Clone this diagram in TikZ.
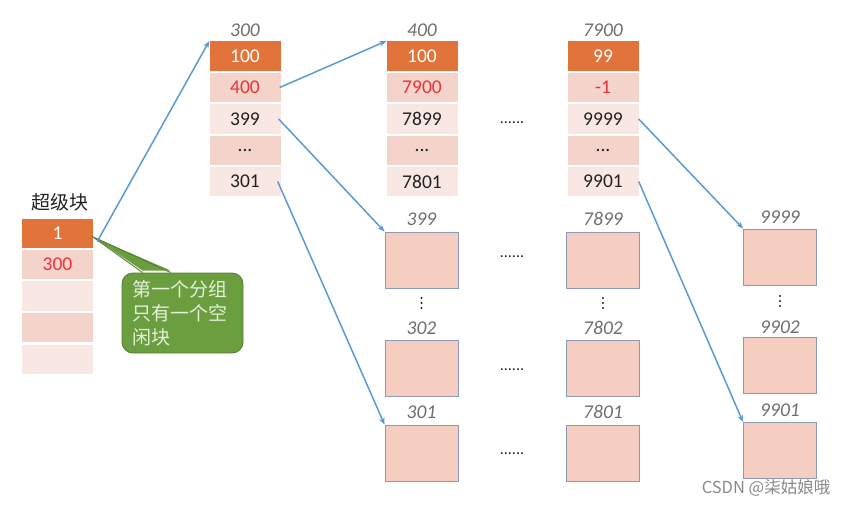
\documentclass[tikz,border=0pt]{standalone}
\usepackage{fontspec}
\setmainfont{Carlito}
\newfontfamily\cjk{Noto Sans CJK SC}
\usetikzlibrary{arrows.meta}
\definecolor{orangec}{HTML}{E2733A}
\definecolor{pinkmid}{HTML}{F3D3CA}
\definecolor{pinklight}{HTML}{F9E7E3}
\definecolor{boxfill}{HTML}{F6CEC1}
\definecolor{boxline}{HTML}{8C9AB8}
\definecolor{redtxt}{HTML}{E8343A}
\definecolor{hdr}{HTML}{6E6E6E}
\definecolor{arrowc}{HTML}{5B9BD5}
\definecolor{calfill}{HTML}{6B9E3E}
\definecolor{calline}{HTML}{567F35}
\definecolor{caltext}{HTML}{E6F0DC}
\definecolor{wmc}{HTML}{8A8A8A}
\definecolor{txtc}{HTML}{222222}
\tikzset{
  cellbase/.style={minimum width=71pt, minimum height=29.5pt, inner sep=0pt, text=txtc, font=\fontsize{19.5}{19.5}\selectfont},
  cellhead/.style={cellbase, fill=orangec, text=white},
  cellmid/.style={cellbase, fill=pinkmid},
  celllight/.style={cellbase, fill=pinklight},
  hdrlabel/.style={font=\fontsize{19.5}{19.5}\selectfont\itshape, text=hdr, inner sep=0pt},
  blockbox/.style={draw=boxline, line width=0.9pt, fill=boxfill, minimum width=73pt, minimum height=56pt, inner sep=0pt},
  link/.style={draw=arrowc, line width=1.5pt, -{Stealth[length=7pt,width=5.5pt]}},
  hdotsty/.style={font=\fontsize{16}{16}\selectfont, text=txtc, inner sep=0pt},
  vdot/.style={fill=txtc, circle, inner sep=0pt, minimum size=2.2pt},
  calloutbox/.style={fill=calfill, draw=calline, line width=0.9pt, rounded corners=11pt,
    minimum width=121pt, minimum height=80pt, text width=100pt, inner xsep=10.5pt, align=left,
    text=caltext, font=\cjk\fontsize{19}{24}\selectfont},
}
\begin{document}
\begin{tikzpicture}[x=1pt, y=-1pt]
\useasboundingbox (0,0) rectangle (850,507);
\fill[white] (0,0) rectangle (850,507);

% superblock
\node[font=\cjk\fontsize{19}{19}\selectfont, text=txtc, inner sep=0pt] (sblabel) at (60,202) {超级块};
\node[cellhead]  (s1) at (57.5,233.5) {1};
\node[cellmid, text=redtxt] (s2) at (57.5,264.5) {300};
\node[celllight] (s3) at (57.5,296) {};
\node[cellmid]   (s4) at (57.5,327.5) {};
\node[celllight] (s5) at (57.5,359.5) {};

% column 300
\node[hdrlabel] (h300) at (245,30) {300};
\node[cellhead]  (a1) at (245,56) {100};
\node[cellmid, text=redtxt] (a2) at (245,87.5) {400};
\node[celllight] (a3) at (245,119) {399};
\node[cellmid]   (a4) at (245,150.5) {...};
\node[celllight] (a5) at (245,181.5) {301};

% column 400
\node[hdrlabel] (h400) at (422,30) {400};
\node[cellhead]  (b1) at (422,56) {100};
\node[cellmid, text=redtxt] (b2) at (422,87.5) {7900};
\node[celllight] (b3) at (422,119) {7899};
\node[cellmid]   (b4) at (422,150.5) {...};
\node[celllight] (b5) at (422,181.5) {7801};

% column 7900
\node[hdrlabel] (h7900) at (603,30) {7900};
\node[cellhead]  (c1) at (603,56) {99};
\node[cellmid, text=redtxt] (c2) at (603,87.5) {-1};
\node[celllight] (c3) at (603,119) {9999};
\node[cellmid]   (c4) at (603,150.5) {...};
\node[celllight] (c5) at (603,181.5) {9901};

\node[hdotsty] (d0) at (512,123) {......};

% block boxes, column 1
\node[hdrlabel] (l399) at (421.5,219) {399};
\node[blockbox] (k399) at (421.5,260) {};
\node[hdrlabel] (l302) at (421.5,328) {302};
\node[blockbox] (k302) at (421.5,368.5) {};
\node[hdrlabel] (l301) at (421.5,412) {301};
\node[blockbox] (k301) at (421.5,453) {};

% block boxes, column 2
\node[hdrlabel] (l7899) at (603,219) {7899};
\node[blockbox] (k7899) at (603,260) {};
\node[hdrlabel] (l7802) at (603,328) {7802};
\node[blockbox] (k7802) at (603,368.5) {};
\node[hdrlabel] (l7801) at (603,412) {7801};
\node[blockbox] (k7801) at (603,453) {};

% block boxes, column 3
\node[hdrlabel] (l9999) at (780,217) {9999};
\node[blockbox] (k9999) at (780,257) {};
\node[hdrlabel] (l9902) at (780,327) {9902};
\node[blockbox] (k9902) at (780,365) {};
\node[hdrlabel] (l9901) at (780,410) {9901};
\node[blockbox] (k9901) at (780,450.5) {};

% vertical dots
\foreach \xx/\yy [count=\i] in {421.5/303, 603/303, 780/301} {
  \node[vdot] (va\i) at (\xx,\yy-5) {};
  \node[vdot] (vb\i) at (\xx,\yy) {};
  \node[vdot] (vc\i) at (\xx,\yy+5) {};
}

% horizontal dots between columns
\node[hdotsty] (d1) at (512,257) {......};
\node[hdotsty] (d2) at (512,370) {......};
\node[hdotsty] (d3) at (512,454) {......};

% callout
\node[calloutbox] (call) at (182.5,313) {第一个分组\\只有一个空\\闲块};
\coordinate (tip) at ([xshift=-1pt,yshift=-3pt]s1.east);
\coordinate (wa) at ([xshift=21pt]call.north west);
\coordinate (wb) at ([xshift=49pt]call.north west);
\fill[calfill] (tip) -- ([yshift=2pt]wa) -- ([yshift=2pt]wb) -- cycle;
\draw[calline, line width=0.9pt, line join=round] (wa) -- (tip) -- (wb);

% arrows
\draw[link] ([xshift=4pt,yshift=8pt]s2.north east) -- (a1.north west);
\draw[link] ([xshift=-1pt]a2.east) -- (b1.north west);
\draw[link] ([xshift=-2pt]a3.east) -- (k399.north west);
\draw[link] ([xshift=-3pt]a5.east) -- (k301.north west);
\draw[link] (c3.east) -- (k9999.north west);
\draw[link] (c5.east) -- (k9901.north west);

% watermark
\node[font=\cjk\fontsize{16.5}{16.5}\selectfont, text=wmc, inner sep=0pt] (wm) at (766,488) {CSDN @柒姑娘哦};
\end{tikzpicture}
\end{document}
